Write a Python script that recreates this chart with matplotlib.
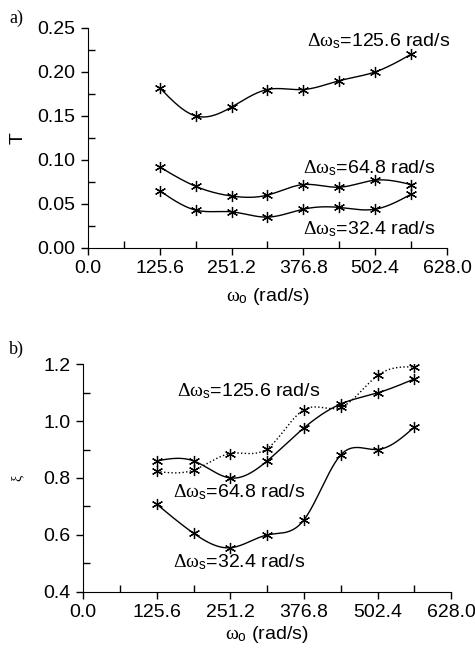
import numpy as np
import matplotlib.pyplot as plt
from matplotlib.ticker import MultipleLocator

plt.rcParams['font.family'] = ['Liberation Sans', 'DejaVu Sans']
plt.rcParams['mathtext.fontset'] = 'custom'
plt.rcParams['mathtext.rm'] = 'Liberation Serif'
plt.rcParams['mathtext.it'] = 'Liberation Serif:italic'
plt.rcParams['mathtext.sf'] = 'Liberation Sans'

w0 = [125.6, 188.4, 251.2, 314.0, 376.8, 439.6, 502.4, 565.2]
xticks = [0.0, 125.6, 251.2, 376.8, 502.4, 628.0]

# a) T
T_1256 = [0.182, 0.150, 0.160, 0.180, 0.180, 0.190, 0.200, 0.220]
T_648 = [0.092, 0.070, 0.059, 0.060, 0.072, 0.069, 0.077, 0.072]
T_324 = [0.065, 0.043, 0.041, 0.035, 0.044, 0.046, 0.044, 0.061]

# b) xi
xi_1256 = [0.823, 0.828, 0.886, 0.903, 1.040, 1.048, 1.160, 1.190]
xi_648 = [0.860, 0.860, 0.800, 0.860, 0.976, 1.060, 1.099, 1.148]
xi_324 = [0.708, 0.606, 0.555, 0.600, 0.653, 0.881, 0.900, 0.979]

FS = 14
LBL = r'$\mathrm{\Delta\omega}_{\mathsf{s}}$=%s rad/s'


def spline(x, y, n=300):
    # natural cubic spline through the points
    x = np.asarray(x, float)
    y = np.asarray(y, float)
    k = len(x)
    h = np.diff(x)
    A = np.zeros((k, k))
    r = np.zeros(k)
    A[0, 0] = A[-1, -1] = 1
    for i in range(1, k - 1):
        A[i, i - 1] = h[i - 1]
        A[i, i] = 2 * (h[i - 1] + h[i])
        A[i, i + 1] = h[i]
        r[i] = 3 * ((y[i + 1] - y[i]) / h[i] - (y[i] - y[i - 1]) / h[i - 1])
    c = np.linalg.solve(A, r)
    b = (y[1:] - y[:-1]) / h - h * (2 * c[:-1] + c[1:]) / 3
    d = (c[1:] - c[:-1]) / (3 * h)
    xs = np.linspace(x[0], x[-1], n)
    j = np.clip(np.searchsorted(x, xs) - 1, 0, k - 2)
    t = xs - x[j]
    ys = y[j] + b[j] * t + c[j] * t ** 2 + d[j] * t ** 3
    return xs, ys


def style(ax, pad):
    ax.spines['top'].set_visible(False)
    ax.spines['right'].set_visible(False)
    ax.set_xlim(0, 628)
    ax.set_xticks(xticks)
    ax.set_xticklabels(['%.1f' % v for v in xticks])
    ax.xaxis.set_minor_locator(MultipleLocator(62.8))
    ax.tick_params(which='major', direction='out', length=5, width=1, labelsize=FS, pad=4)
    ax.tick_params(which='minor', direction='in', length=5, width=1)
    ax.set_xlabel(r'$\mathrm{\omega}_{\mathsf{o}}$ (rad/s)', fontsize=FS, labelpad=pad)


def curve(ax, y, ls='-'):
    xs, ys = spline(w0, y)
    ax.plot(xs, ys, color='black', lw=1.0, ls=ls)
    ax.plot(w0, y, ls='none', marker=(6, 2, 0), ms=8, mew=0.9, color='black')


fig = plt.figure(figsize=(4.75, 6.49), dpi=100)
ax1 = fig.add_axes([0.185, 0.618, 0.756, 0.339])
ax2 = fig.add_axes([0.175, 0.088, 0.775, 0.351])

curve(ax1, T_1256)
curve(ax1, T_648)
curve(ax1, T_324)
style(ax1, 6)
ax1.set_ylim(0, 0.25)
ax1.yaxis.set_major_locator(MultipleLocator(0.05))
ax1.yaxis.set_minor_locator(MultipleLocator(0.025))
ax1.set_yticklabels(['%.2f' % v for v in ax1.get_yticks()])
ax1.set_ylabel('T', fontsize=FS, labelpad=8)
ax1.text(383, 0.235, LBL % '125.6', fontsize=FS, va='center')
ax1.text(376, 0.091, LBL % '64.8', fontsize=FS, va='center')
ax1.text(376, 0.021, LBL % '32.4', fontsize=FS, va='center')

curve(ax2, xi_1256, ls=':')
curve(ax2, xi_648)
curve(ax2, xi_324)
style(ax2, 2)
ax2.set_ylim(0.4, 1.2)
ax2.yaxis.set_major_locator(MultipleLocator(0.2))
ax2.yaxis.set_minor_locator(MultipleLocator(0.1))
ax2.set_yticklabels(['%.1f' % v for v in ax2.get_yticks()])
ax2.set_ylabel(r'$\mathrm{\xi}$', fontsize=10, labelpad=12)
ax2.text(160, 1.105, LBL % '125.6', fontsize=FS, va='center')
ax2.text(154, 0.752, LBL % '64.8', fontsize=FS, va='center')
ax2.text(154, 0.503, LBL % '32.4', fontsize=FS, va='center')

fig.text(0.02, 0.965, 'a)', family='Liberation Serif', fontsize=13)
fig.text(0.018, 0.455, 'b)', family='Liberation Serif', fontsize=13)

plt.savefig('out.png', dpi=100)
